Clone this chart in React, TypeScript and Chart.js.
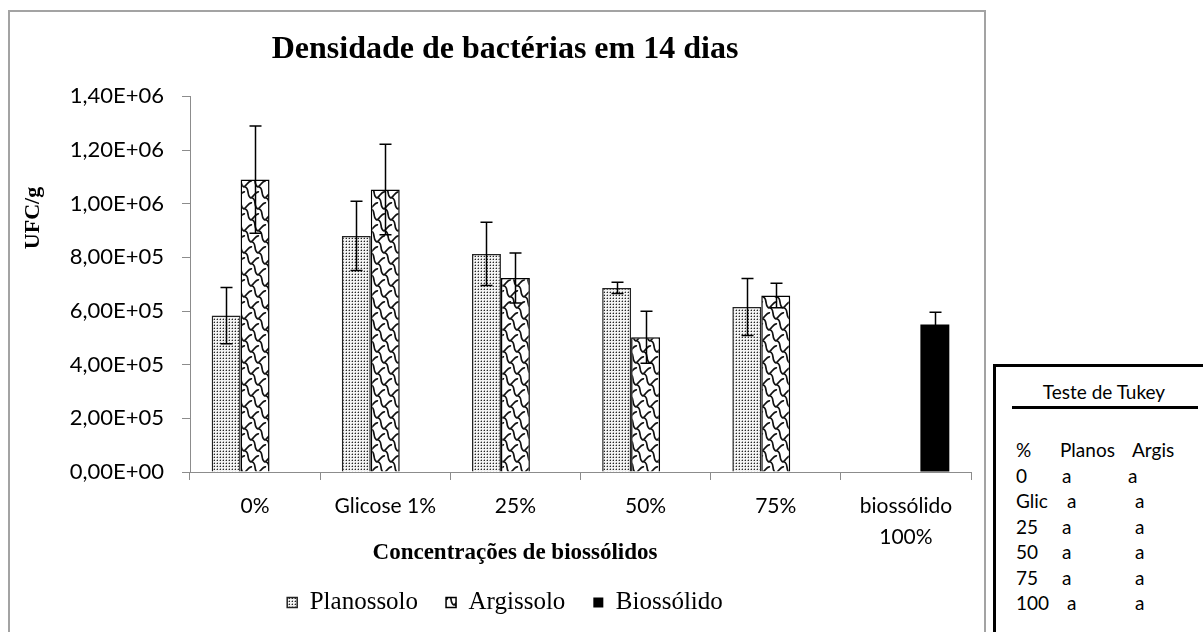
import React, { useEffect, useRef } from 'react';
import { Chart, registerables } from 'chart.js';

Chart.register(...registerables);

const categories: (string | string[])[] = ['0%', 'Glicose 1%', '25%', '50%', '75%', ['biossólido', '100%']];
const planossolo = [583000, 880000, 813000, 686000, 615000, 0];
const planossoloErr = [105000, 129000, 118000, 21000, 106000, 0];
const argissolo = [1090000, 1053000, 723000, 502000, 658000, 0];
const argissoloErr = [200000, 169000, 93000, 97000, 46000, 0];
const biossolido = [0, 0, 0, 0, 0, 550000];
const biossolidoErr = [0, 0, 0, 0, 0, 45000];
const yMin = 0;
const yMax = 1400000;
const yStep = 200000;

const chartTitle = 'Densidade de bactérias em 14 dias';
const xTitle = 'Concentrações de biossólidos';
const yTitle = 'UFC/g';

const tukeyTitle = 'Teste de Tukey';
const tukeyHeader = ['%', 'Planos', 'Argis'];
const tukeyRows = ['0', 'Glic', '25', '50', '75', '100'];
const tukeyPlan = ['a', 'a', 'a', 'a', 'a', 'a'];
const tukeyArg = ['a', 'a', 'a', 'a', 'a', 'a'];

function fmtSci(v: number): string {
  if (v === 0) return '0,00E+00';
  const exp = Math.floor(Math.log10(Math.abs(v)));
  const mant = v / Math.pow(10, exp);
  const sign = exp < 0 ? '-' : '+';
  const e = String(Math.abs(exp)).padStart(2, '0');
  return mant.toFixed(2).replace('.', ',') + 'E' + sign + e;
}

function dotPattern(ctx: CanvasRenderingContext2D) {
  const c = document.createElement('canvas');
  c.width = 3;
  c.height = 3;
  const g = c.getContext('2d')!;
  g.fillStyle = '#f4f4f4';
  g.fillRect(0, 0, 3, 3);
  g.fillStyle = '#a8a8a8';
  g.fillRect(0, 1, 1, 1);
  g.fillRect(1, 0, 1, 1);
  g.fillStyle = '#262626';
  g.fillRect(1, 1, 1, 1);
  return ctx.createPattern(c, 'repeat')!;
}

function scalePattern(ctx: CanvasRenderingContext2D) {
  const w = 14;
  const h = 22;
  const c = document.createElement('canvas');
  c.width = w;
  c.height = h;
  const g = c.getContext('2d')!;
  g.fillStyle = '#ffffff';
  g.fillRect(0, 0, w, h);
  g.strokeStyle = '#111';
  g.lineWidth = 1.7;
  const shingle = (cx: number, top: number) => {
    g.beginPath();
    g.moveTo(cx - 7, top);
    g.bezierCurveTo(cx - 2, top + 1, cx - 6, top + 9, cx - 1, top + 11);
    g.bezierCurveTo(cx + 2, top + 9, cx + 4, top + 4, cx + 7, top + 5);
    g.stroke();
  };
  for (let ty = -h; ty <= h; ty += h) {
    for (let tx = -w; tx <= 2 * w; tx += w) {
      shingle(tx + 7, ty);
      shingle(tx, ty + 11);
    }
  }
  return ctx.createPattern(c, 'repeat')!;
}

export default function App() {
  const ref = useRef<HTMLCanvasElement | null>(null);

  useEffect(() => {
    const canvas = ref.current!;
    const ctx = canvas.getContext('2d')!;
    const values = [planossolo, argissolo, biossolido];
    const errors = [planossoloErr, argissoloErr, biossolidoErr];

    const errorBars = {
      id: 'errorBars',
      afterDatasetsDraw(chart: any) {
        const c = chart.ctx;
        const ys = chart.scales.y;
        c.save();
        c.strokeStyle = '#000';
        c.lineWidth = 1.5;
        chart.data.datasets.forEach((_ds: any, di: number) => {
          const meta = chart.getDatasetMeta(di);
          meta.data.forEach((bar: any, i: number) => {
            const v = values[di][i];
            const e = errors[di][i];
            if (!e) return;
            const x = Math.round(bar.x) + 0.5;
            const yt = ys.getPixelForValue(v + e);
            const yb = ys.getPixelForValue(v - e);
            c.beginPath();
            c.moveTo(x, yt);
            c.lineTo(x, yb);
            c.moveTo(x - 6, yt);
            c.lineTo(x + 6, yt);
            c.moveTo(x - 6, yb);
            c.lineTo(x + 6, yb);
            c.stroke();
          });
        });
        c.restore();
      },
    };

    const axisTitles = {
      id: 'axisTitles',
      afterDraw(chart: any) {
        const c = chart.ctx;
        c.save();
        c.fillStyle = '#000';
        c.textAlign = 'center';
        c.textBaseline = 'middle';
        c.font = 'bold 23px "Liberation Serif"';
        c.fillText(xTitle, 515, 553);
        c.translate(33, 218);
        c.rotate(-Math.PI / 2);
        c.font = 'bold 22px "Liberation Serif"';
        c.fillText(yTitle, 0, 0);
        c.restore();
      },
    };

    const chart = new Chart(ctx, {
      type: 'bar',
      data: {
        labels: categories,
        datasets: [
          {
            label: 'Planossolo',
            data: planossolo,
            backgroundColor: dotPattern(ctx),
            borderColor: '#222',
            borderWidth: 1.5,
          },
          {
            label: 'Argissolo',
            data: argissolo,
            backgroundColor: scalePattern(ctx),
            borderColor: '#000',
            borderWidth: 1.5,
          },
          {
            label: 'Biossólido',
            data: biossolido,
            backgroundColor: '#000',
            borderColor: '#000',
            borderWidth: 0,
          },
        ],
      },
      options: {
        responsive: false,
        animation: false,
        devicePixelRatio: 1,
        layout: { padding: { left: 39, right: 232, top: 0, bottom: 7 } },
        datasets: {
          bar: { categoryPercentage: 0.667, barPercentage: 1 },
        },
        plugins: {
          title: {
            display: true,
            text: chartTitle,
            color: '#000',
            font: { family: 'Liberation Serif', size: 32, weight: 'bold' },
            padding: { top: 31, bottom: 27 },
          },
          legend: {
            position: 'bottom',
            labels: {
              font: { family: 'Liberation Serif', size: 25 },
              color: '#000',
              boxWidth: 10,
              boxHeight: 10,
              padding: 28,
            },
          },
          tooltip: { enabled: false },
        },
        scales: {
          x: {
            grid: { offset: true, drawOnChartArea: false, drawTicks: true, tickLength: 8, color: '#8c8c8c' },
            border: { color: '#8c8c8c', width: 1 },
            ticks: {
              font: { family: 'Lato', size: 21, lineHeight: 1.5 },
              color: '#000',
              padding: 10,
              maxRotation: 0,
              autoSkip: false,
            },
            afterFit: (s: any) => {
              s.height = 90;
            },
          },
          y: {
            min: yMin,
            max: yMax,
            grid: { drawOnChartArea: false, drawTicks: true, tickLength: 8, color: '#8c8c8c' },
            border: { color: '#8c8c8c', width: 1 },
            ticks: {
              stepSize: yStep,
              font: { family: 'Lato', size: 22 },
              color: '#000',
              padding: 18,
              callback: (v: any) => fmtSci(Number(v)),
            },
            afterFit: (s: any) => {
              s.width = 151;
            },
          },
        },
      },
      plugins: [errorBars, axisTitles],
    });
    return () => chart.destroy();
  }, []);

  const tText: React.CSSProperties = {
    position: 'absolute',
    fontFamily: 'Lato',
    fontSize: 19,
    lineHeight: '24px',
    color: '#000',
    whiteSpace: 'pre',
  };
  const rowY = (i: number) => 450 + i * 25.5 - 12;

  return (
    <div style={{ position: 'absolute', left: 0, top: 0, width: 1203, height: 632, background: '#fff', overflow: 'hidden' }}>
      <div
        style={{
          position: 'absolute',
          left: 8,
          top: 10,
          width: 978,
          height: 700,
          border: '2px solid #a3a3a3',
          boxSizing: 'border-box',
        }}
      />
      <canvas ref={ref} width={1203} height={632} style={{ position: 'absolute', left: 0, top: 0 }} />
      <div
        style={{
          position: 'absolute',
          left: 993,
          top: 364,
          width: 260,
          height: 320,
          border: '3px solid #000',
          boxSizing: 'border-box',
          background: '#fff',
        }}
      />
      <div style={{ ...tText, left: 1034, top: 380, width: 140, textAlign: 'center' }}>{tukeyTitle}</div>
      <div style={{ position: 'absolute', left: 1012, top: 406, width: 186, height: 3, background: '#000' }} />
      <div style={{ ...tText, left: 1016, top: rowY(0) }}>{tukeyHeader[0]}</div>
      <div style={{ ...tText, left: 1060, top: rowY(0) }}>{tukeyHeader[1]}</div>
      <div style={{ ...tText, left: 1132, top: rowY(0) }}>{tukeyHeader[2]}</div>
      {tukeyRows.map((r, i) => (
        <React.Fragment key={r}>
          <div style={{ ...tText, left: 1016, top: rowY(i + 1) }}>{r}</div>
          <div style={{ ...tText, left: r === 'Glic' || r === '100' ? 1067 : 1062, top: rowY(i + 1) }}>{tukeyPlan[i]}</div>
          <div style={{ ...tText, left: r === '0' ? 1128 : 1135, top: rowY(i + 1) }}>{tukeyArg[i]}</div>
        </React.Fragment>
      ))}
    </div>
  );
}
